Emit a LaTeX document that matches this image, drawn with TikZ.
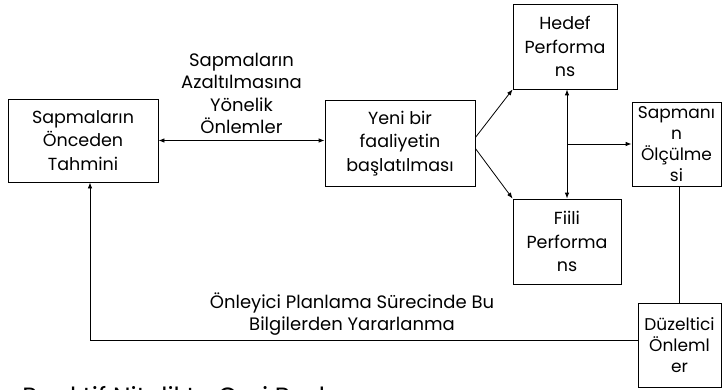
\documentclass[tikz,border=0pt]{standalone}
\usepackage{fontspec}
\setmainfont{Poppins}
\usetikzlibrary{arrows.meta}

\begin{document}
\begin{tikzpicture}[x=1pt,y=-1pt,line width=.8pt,
  box/.style={draw,align=center,inner sep=0pt,font=\fontsize{17.5}{23.5}\selectfont},
  small/.style={box,font=\fontsize{17}{21}\selectfont},
  label/.style={align=center,font=\fontsize{18}{22.5}\selectfont},
  arr/.style={-{Latex[length=6pt,width=4.5pt]}},
  dbl/.style={{Latex[length=6pt,width=4.5pt]}-{Latex[length=6pt,width=4.5pt]}}]
\useasboundingbox (0,0) rectangle (722,390);

% the boxes
\node[box,minimum width=150,minimum height=83] (tahmin) at (83,140.5) {Sapmaların\\Önceden\\Tahmini};
\node[box,minimum width=150,minimum height=86] (baslat) at (400,143.5) {Yeni bir\\faaliyetin\\başlatılması};
\node[box,minimum width=104,minimum height=85] (hedef) at (565,46.5) {Hedef\\Performa\\ns};
\node[box,minimum width=108,minimum height=85] (fiili) at (567,241.5) {Fiili\\Performa\\ns};
\node[small,minimum width=89,minimum height=84] (olcum) at (676.5,144) {Sapmanı\\n\\Ölçülme\\si};
\node[small,minimum width=83,minimum height=84] (duzelt) at (679.5,345) {Düzeltici\\Önleml\\er};

% connectors
\draw[dbl] (tahmin.east) -- (tahmin.east -| baslat.west)
  node[midway,above=3pt,label] (azalt) {Sapmaların\\Azaltılmasına\\Yönelik\\Önlemler};
\draw[arr] ([yshift=6pt]baslat.east) -- (hedef.south west);
\draw[arr] ([yshift=-5pt]baslat.east) -- (fiili.north west);
\draw[dbl] (fiili.north |- hedef.south) -- (fiili.north);
\draw[arr] (olcum.west -| fiili.north) -- (olcum.west);
\draw (olcum.south -| duzelt.north) -- (duzelt.north);
\draw[arr] ([yshift=5pt]duzelt.west) -| ([xshift=7pt]tahmin.south);

\node[label] (bilgi) at (352,314) {Önleyici Planlama Sürecinde Bu\\Bilgilerden Yararlanma};
% title runs off the bottom edge
\node[anchor=base west,inner sep=0pt,font=\fontsize{25}{30}\selectfont] (baslik) at (22,405) {Reaktif Nitelikte Geri Besleme};
\end{tikzpicture}
\end{document}
